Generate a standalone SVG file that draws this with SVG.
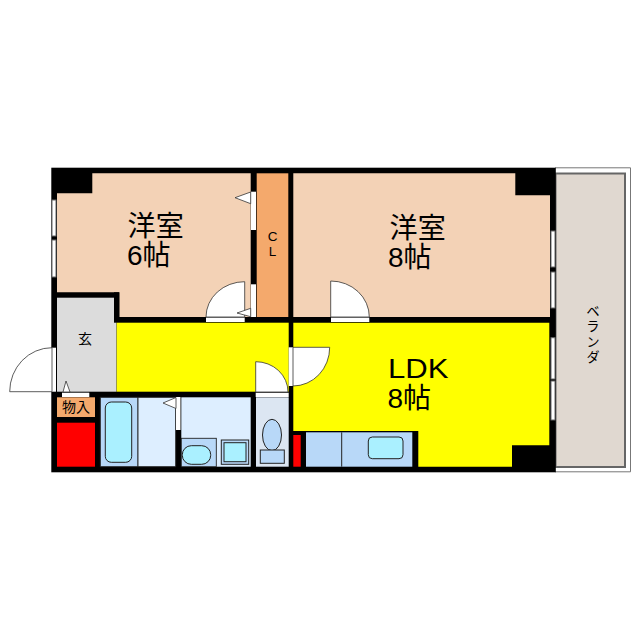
<svg xmlns="http://www.w3.org/2000/svg" width="640" height="640" viewBox="0 0 640 640">
<style>
.w{fill:#000}
.s{stroke:#222;stroke-width:.9}
.o{fill:#fff;stroke:#333;stroke-width:.8}
.g{fill:#fff;stroke:#666;stroke-width:1}
.t{font-family:"Liberation Sans","Noto Sans CJK JP",sans-serif;fill:#000}
.j{font-family:"Noto Sans CJK JP",sans-serif;fill:#000}
</style>
<rect width="640" height="640" fill="#fff"/>
<g id="veranda">
<path d="M555 167.800H630.500V471.800H555" fill="#fff" stroke="#777" stroke-width="1"/>
<rect x="555.500" y="173.500" width="69.500" height="293.500" fill="#e0d8d0" stroke="#666" stroke-width="2"/>
<text class="j" x="593" y="304" font-size="13.500" letter-spacing="2" writing-mode="vertical-rl">ベランダ</text>
</g>
<g id="walls">
<rect class="w" x="51.300" y="167.700" width="504.500" height="304.600"/>
</g>
<g id="room-6">
<path d="M92.300 173.300H250.700V317H119.300V292.300H57V193.300H92.300Z" fill="#f3d2b6"/>
<text class="t" font-size="28"><tspan class="j" x="127.500" y="236" letter-spacing="0.300">洋室</tspan><tspan x="127" y="265">6帖</tspan></text>
</g>
<g id="closet">
<rect x="256.700" y="173.300" width="31.600" height="143.700" fill="#f4a96c"/>
<text class="t" font-size="13.500" text-anchor="middle"><tspan x="272.500" y="240.500">C</tspan><tspan x="272.500" y="256">L</tspan></text>
</g>
<g id="room-8">
<path d="M293.300 173.300H515.300V195.300H550V317H293.300Z" fill="#f3d2b6"/>
<text class="t" font-size="28"><tspan class="j" x="389.500" y="238" letter-spacing="0.300">洋室</tspan><tspan x="388" y="267">8帖</tspan></text>
</g>
<g id="genkan">
<rect x="57" y="297.700" width="59.500" height="94" fill="#dcdcdc"/>
<rect x="114" y="292.300" width="5.300" height="30.400" class="w"/>
<text class="j" x="85" y="343.500" font-size="14" text-anchor="middle">玄</text>
</g>
<g id="hall"><rect x="116.700" y="322.700" width="172" height="69" fill="#ff0"/></g>
<g id="ldk">
<path d="M293.300 322.700H549.300V445.300H512V466.700H418.300V431H293.300Z" fill="#ff0"/>
<text class="t" font-size="28"><tspan x="388" y="378" textLength="60.500" lengthAdjust="spacingAndGlyphs">LDK</tspan><tspan x="387.500" y="408">8帖</tspan></text>
</g>
<g id="storage">
<rect x="57" y="397.300" width="38" height="19.700" fill="#f4a96c"/>
<text class="j" x="76" y="412" font-size="14" text-anchor="middle">物入</text>
<rect x="57" y="422.700" width="38" height="44" fill="#f00"/>
</g>
<g id="bath">
<rect x="100.300" y="397.300" width="37.700" height="69.400" fill="#b8d8f8" class="s"/>
<rect x="138" y="397.300" width="37.700" height="69.400" fill="#ddeeff" class="s"/>
<rect x="105.300" y="402" width="26.400" height="60.300" rx="6" fill="#aaf0ff" stroke="#222"/>
</g>
<g id="wash">
<rect x="181.300" y="397.300" width="69.400" height="69.400" fill="#ddeeff"/>
<rect x="181.300" y="438.300" width="35" height="28.400" fill="#b8d8f8" class="s"/>
<rect x="182.300" y="445.700" width="28.400" height="18.600" rx="9" fill="#aaf0ff" stroke="#222"/>
<rect x="221.300" y="440" width="27.400" height="24.300" fill="#b8d8f8" stroke="#222"/>
<rect x="224" y="442.700" width="22" height="19" fill="#aaf0ff" stroke="#222"/>
</g>
<g id="toilet">
<rect x="256" y="397.300" width="32.700" height="69.400" fill="#dce6f2"/>
<ellipse cx="272" cy="435" rx="9.500" ry="15.700" fill="#b8d8f8" stroke="#222"/>
<rect x="260.300" y="450" width="24" height="13.300" fill="#b8d8f8" stroke="#222"/>
</g>
<g id="kitchen">
<rect x="293.300" y="435" width="7.400" height="31.700" fill="#f00"/>
<rect x="306" y="432.300" width="106.300" height="34.400" fill="#b8d8f8"/>
<path d="M341.700 432.300V466.700" stroke="#222" fill="none"/>
<rect x="368.300" y="437" width="34.700" height="21.700" rx="4" fill="#aaf0ff" stroke="#222"/>
</g>
<g id="openings">
<rect class="g" x="52" y="200" width="4" height="36"/>
<rect class="g" x="52" y="240" width="4" height="37"/>
<rect class="g" x="551" y="231" width="4" height="36"/>
<rect class="g" x="551" y="272" width="4" height="36"/>
<rect class="g" x="551" y="337.700" width="4" height="41.300"/>
<rect class="g" x="551" y="381" width="4" height="39"/>
<rect fill="#fff" x="251" y="191.700" width="5" height="38.300"/>
<rect fill="#fff" x="251" y="284.300" width="5" height="32.700"/>
<rect fill="#fff" x="176" y="397" width="4.500" height="33"/>
<rect fill="#fff" x="51.700" y="347.700" width="4.300" height="44"/>
<rect fill="#fff" x="288.700" y="347.300" width="4.300" height="38.700"/>
<rect fill="#fff" x="206" y="317.500" width="38.700" height="4.500"/>
<rect fill="#fff" x="331" y="317.500" width="38.300" height="4.500"/>
<rect fill="#fff" x="255.700" y="392.700" width="33" height="4.300"/>
<rect fill="#fff" x="62" y="392.700" width="27.300" height="4.300"/>
</g>
<g id="connectors">
<path class="o" d="M244.700 281.700V317H206A38.700 35.300 0 0 1 244.700 281.700Z"/>
<path class="o" d="M330.700 281V317H369.300A38.600 36 0 0 0 330.700 281Z"/>
<path class="o" d="M52 347.700V391.700H9.700A42.300 44 0 0 1 52 347.700Z"/>
<path class="o" d="M255.700 361.700V392H288A32.300 30.300 0 0 0 255.700 361.700Z"/>
<path class="o" d="M293 347.300H329.700A36.700 38.700 0 0 1 293 386Z"/>
<path class="o" d="M250.700 192L235 197.700L250.700 203.700Z"/>
<path class="o" d="M250.700 308.300L237 313L250.700 316.700Z"/>
<path class="o" d="M176 397.500L163 403L176 408.500Z"/>
<path class="o" d="M63 392L66 381L70 392Z"/>
</g>
</svg>
